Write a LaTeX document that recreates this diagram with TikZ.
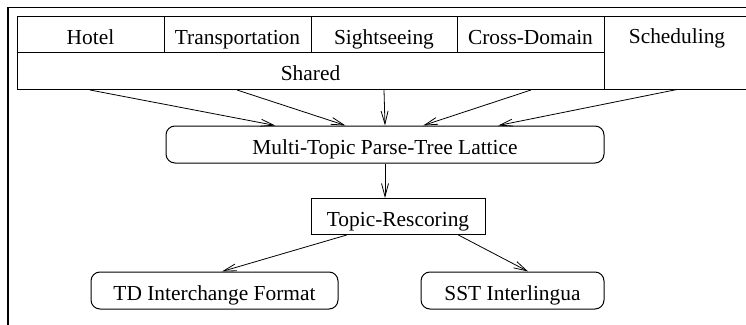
\documentclass[tikz,border=0pt]{standalone}
\usepackage{fontspec}
\setmainfont{Liberation Serif}
\usetikzlibrary{arrows.meta,calc}
\tikzset{
    >={Straight Barb[length=13pt,width=7pt]},
    x=1pt, y=-1pt,
    cell/.style={draw,rectangle,line width=1pt,inner sep=0pt,minimum height=36pt,
        text height=19pt,text depth=0pt,font=\fontsize{21.4pt}{25pt}\selectfont},
    stage/.style={cell,rounded corners=9pt,minimum height=37pt},
    flow/.style={->,line width=0.8pt}
}

\begin{document}
\begin{tikzpicture}
  \useasboundingbox (0,0) rectangle (746,324);
  \clip (0,0) rectangle (746,324);
  \draw[line width=1.1pt] (8,330) -- (8,7.5) -- (760,7.5);

  \node[cell,minimum width=147pt] (hotel) at (90.5,34.5)   {Hotel};
  \node[cell,minimum width=147pt] (trans) at (237.5,34.5)  {Transportation};
  \node[cell,minimum width=146pt] (sight) at (384,34.5)    {Sightseeing};
  \node[cell,minimum width=147pt] (cross) at (530.5,34.5)  {Cross-Domain};
  \node[cell,minimum width=146pt,minimum height=73pt,text depth=38pt] (sched) at (677,52.5) {Scheduling};
  \node[cell,minimum width=587pt,minimum height=37pt] (shared) at (310.5,71) {Shared};

  \node[stage,minimum width=438pt] (lattice) at (385,144.5) {Multi-Topic Parse-Tree Lattice};
  \node[cell,minimum width=174pt] (rescore) at (398,216.5) {Topic-Rescoring};
  \node[stage,minimum width=247pt] (tdif) at (214.5,290.5) {TD Interchange Format};
  \node[stage,minimum width=183pt] (sst) at (512.5,290.5) {SST Interlingua};

  \foreach \s/\t in {.125/.25, .375/.41, .625/.5, .875/.587}
    \draw[flow] ($(shared.south west)!\s!(shared.south east)$) -- ($(lattice.north west)!\t!(lattice.north east)$);
  \draw[flow] (sched.south) -- ($(lattice.north west)!.758!(lattice.north east)$);

  \draw[flow] (lattice.south) -- (lattice.south |- rescore.north);
  \draw[flow] ($(rescore.south west)!.207!(rescore.south east)$) -- ($(tdif.north west)!.53!(tdif.north east)$);
  \draw[flow] ($(rescore.south west)!.845!(rescore.south east)$) -- ($(sst.north west)!.585!(sst.north east)$);
\end{tikzpicture}
\end{document}
